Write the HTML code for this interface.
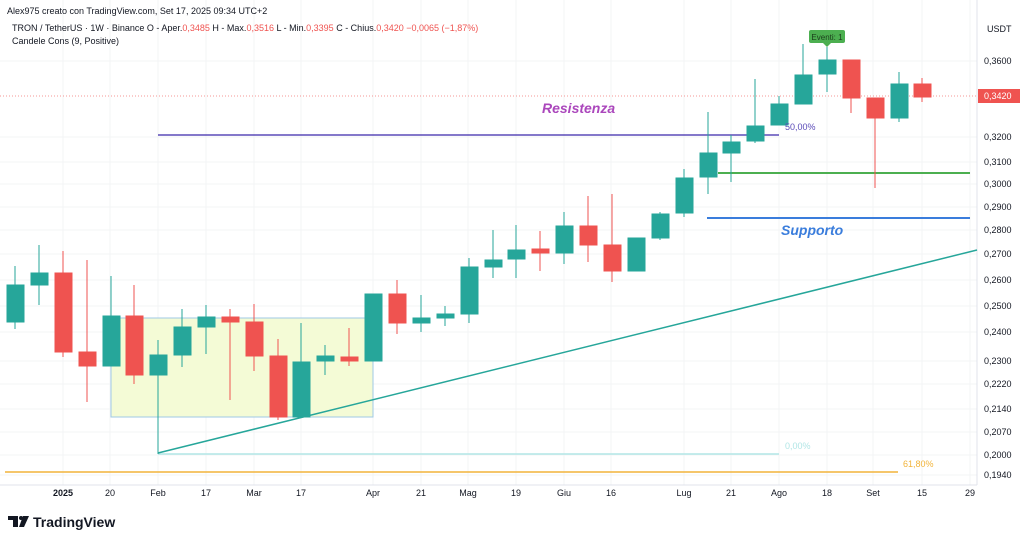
<!DOCTYPE html>
<html><head><meta charset="utf-8"><style>
body{margin:0;width:1024px;height:542px;background:#fff;overflow:hidden;font-family:"Liberation Sans",sans-serif}
svg{position:absolute;left:0;top:0}
</style></head><body>
<svg width="1024" height="542" viewBox="0 0 1024 542" xmlns="http://www.w3.org/2000/svg" font-family="Liberation Sans, sans-serif">
<g stroke="#f3f4f6" stroke-width="1">
<line x1="0" y1="61" x2="977" y2="61"/><line x1="0" y1="137" x2="977" y2="137"/><line x1="0" y1="162" x2="977" y2="162"/><line x1="0" y1="184" x2="977" y2="184"/><line x1="0" y1="207" x2="977" y2="207"/><line x1="0" y1="230" x2="977" y2="230"/><line x1="0" y1="254" x2="977" y2="254"/><line x1="0" y1="280" x2="977" y2="280"/><line x1="0" y1="306" x2="977" y2="306"/><line x1="0" y1="332" x2="977" y2="332"/><line x1="0" y1="361" x2="977" y2="361"/><line x1="0" y1="384" x2="977" y2="384"/><line x1="0" y1="409" x2="977" y2="409"/><line x1="0" y1="432" x2="977" y2="432"/><line x1="0" y1="455" x2="977" y2="455"/><line x1="0" y1="475" x2="977" y2="475"/>
<line x1="63" y1="0" x2="63" y2="485"/><line x1="110" y1="0" x2="110" y2="485"/><line x1="158" y1="0" x2="158" y2="485"/><line x1="206" y1="0" x2="206" y2="485"/><line x1="254" y1="0" x2="254" y2="485"/><line x1="301" y1="0" x2="301" y2="485"/><line x1="373" y1="0" x2="373" y2="485"/><line x1="421" y1="0" x2="421" y2="485"/><line x1="468" y1="0" x2="468" y2="485"/><line x1="516" y1="0" x2="516" y2="485"/><line x1="564" y1="0" x2="564" y2="485"/><line x1="611" y1="0" x2="611" y2="485"/><line x1="684" y1="0" x2="684" y2="485"/><line x1="731" y1="0" x2="731" y2="485"/><line x1="779" y1="0" x2="779" y2="485"/><line x1="827" y1="0" x2="827" y2="485"/><line x1="873" y1="0" x2="873" y2="485"/><line x1="922" y1="0" x2="922" y2="485"/><line x1="970" y1="0" x2="970" y2="485"/>
</g>
<line x1="977" y1="0" x2="977" y2="485" stroke="#e0e3eb"/>
<line x1="0" y1="485" x2="977" y2="485" stroke="#e0e3eb"/>
<!-- rectangle -->
<rect x="111" y="318" width="262" height="99" fill="#f4fbd6" stroke="#9fc9e6" stroke-width="1"/>
<!-- fib/lines -->
<line x1="158" y1="454" x2="779" y2="454" stroke="#b2e6e6" stroke-width="1.5"/>
<line x1="158" y1="375" x2="158" y2="454" stroke="#26a69a" stroke-width="1"/>
<line x1="5" y1="472" x2="898" y2="472" stroke="#f2b43a" stroke-width="1.5"/>
<line x1="158" y1="135" x2="779" y2="135" stroke="#5b4bb8" stroke-width="1.5"/>
<line x1="718" y1="173" x2="970" y2="173" stroke="#4caf50" stroke-width="2"/>
<line x1="707" y1="218" x2="970" y2="218" stroke="#3a7ddc" stroke-width="2"/>
<line x1="158" y1="453" x2="977" y2="250" stroke="#26a69a" stroke-width="1.5"/>
<line x1="0" y1="96" x2="977" y2="96" stroke="#ef5350" stroke-width="1" stroke-dasharray="1,2" opacity="0.6"/>
<!-- candles -->
<g stroke-width="1">
<g fill="#26a69a" stroke="#26a69a"><line x1="15" y1="266" x2="15" y2="329"/><rect x="7" y="285" width="17" height="37"/></g>
<g fill="#26a69a" stroke="#26a69a"><line x1="39" y1="245" x2="39" y2="305"/><rect x="31" y="273" width="17" height="12"/></g>
<g fill="#ef5350" stroke="#ef5350"><line x1="63" y1="251" x2="63" y2="357"/><rect x="55" y="273" width="17" height="79"/></g>
<g fill="#ef5350" stroke="#ef5350"><line x1="87" y1="260" x2="87" y2="402"/><rect x="79" y="352" width="17" height="14"/></g>
<g fill="#26a69a" stroke="#26a69a"><line x1="111" y1="276" x2="111" y2="366"/><rect x="103" y="316" width="17" height="50"/></g>
<g fill="#ef5350" stroke="#ef5350"><line x1="134" y1="285" x2="134" y2="384"/><rect x="126" y="316" width="17" height="59"/></g>
<g fill="#26a69a" stroke="#26a69a"><line x1="158" y1="340" x2="158" y2="375"/><rect x="150" y="355" width="17" height="20"/></g>
<g fill="#26a69a" stroke="#26a69a"><line x1="182" y1="309" x2="182" y2="367"/><rect x="174" y="327" width="17" height="28"/></g>
<g fill="#26a69a" stroke="#26a69a"><line x1="206" y1="305" x2="206" y2="354"/><rect x="198" y="317" width="17" height="10"/></g>
<g fill="#ef5350" stroke="#ef5350"><line x1="230" y1="309" x2="230" y2="400"/><rect x="222" y="317" width="17" height="5"/></g>
<g fill="#ef5350" stroke="#ef5350"><line x1="254" y1="304" x2="254" y2="371"/><rect x="246" y="322" width="17" height="34"/></g>
<g fill="#ef5350" stroke="#ef5350"><line x1="278" y1="339" x2="278" y2="420"/><rect x="270" y="356" width="17" height="61"/></g>
<g fill="#26a69a" stroke="#26a69a"><line x1="301" y1="323" x2="301" y2="417"/><rect x="293" y="362" width="17" height="55"/></g>
<g fill="#26a69a" stroke="#26a69a"><line x1="325" y1="345" x2="325" y2="375"/><rect x="317" y="356" width="17" height="5"/></g>
<g fill="#ef5350" stroke="#ef5350"><line x1="349" y1="328" x2="349" y2="366"/><rect x="341" y="357" width="17" height="4"/></g>
<g fill="#26a69a" stroke="#26a69a"><line x1="373" y1="294" x2="373" y2="361"/><rect x="365" y="294" width="17" height="67"/></g>
<g fill="#ef5350" stroke="#ef5350"><line x1="397" y1="280" x2="397" y2="334"/><rect x="389" y="294" width="17" height="29"/></g>
<g fill="#26a69a" stroke="#26a69a"><line x1="421" y1="295" x2="421" y2="332"/><rect x="413" y="318" width="17" height="5"/></g>
<g fill="#26a69a" stroke="#26a69a"><line x1="445" y1="306" x2="445" y2="326"/><rect x="437" y="314" width="17" height="4"/></g>
<g fill="#26a69a" stroke="#26a69a"><line x1="469" y1="258" x2="469" y2="323"/><rect x="461" y="267" width="17" height="47"/></g>
<g fill="#26a69a" stroke="#26a69a"><line x1="493" y1="230" x2="493" y2="278"/><rect x="485" y="260" width="17" height="7"/></g>
<g fill="#26a69a" stroke="#26a69a"><line x1="516" y1="225" x2="516" y2="278"/><rect x="508" y="250" width="17" height="9"/></g>
<g fill="#ef5350" stroke="#ef5350"><line x1="540" y1="231" x2="540" y2="271"/><rect x="532" y="249" width="17" height="4"/></g>
<g fill="#26a69a" stroke="#26a69a"><line x1="564" y1="212" x2="564" y2="264"/><rect x="556" y="226" width="17" height="27"/></g>
<g fill="#ef5350" stroke="#ef5350"><line x1="588" y1="196" x2="588" y2="262"/><rect x="580" y="226" width="17" height="19"/></g>
<g fill="#ef5350" stroke="#ef5350"><line x1="612" y1="194" x2="612" y2="282"/><rect x="604" y="245" width="17" height="26"/></g>
<g fill="#26a69a" stroke="#26a69a"><line x1="636" y1="238" x2="636" y2="271"/><rect x="628" y="238" width="17" height="33"/></g>
<g fill="#26a69a" stroke="#26a69a"><line x1="660" y1="212" x2="660" y2="240"/><rect x="652" y="214" width="17" height="24"/></g>
<g fill="#26a69a" stroke="#26a69a"><line x1="684" y1="169" x2="684" y2="217"/><rect x="676" y="178" width="17" height="35"/></g>
<g fill="#26a69a" stroke="#26a69a"><line x1="708" y1="112" x2="708" y2="194"/><rect x="700" y="153" width="17" height="24"/></g>
<g fill="#26a69a" stroke="#26a69a"><line x1="731" y1="135" x2="731" y2="182"/><rect x="723" y="142" width="17" height="11"/></g>
<g fill="#26a69a" stroke="#26a69a"><line x1="755" y1="79" x2="755" y2="143"/><rect x="747" y="126" width="17" height="15"/></g>
<g fill="#26a69a" stroke="#26a69a"><line x1="779" y1="96" x2="779" y2="125"/><rect x="771" y="104" width="17" height="21"/></g>
<g fill="#26a69a" stroke="#26a69a"><line x1="803" y1="44" x2="803" y2="104"/><rect x="795" y="75" width="17" height="29"/></g>
<g fill="#26a69a" stroke="#26a69a"><line x1="827" y1="47" x2="827" y2="92"/><rect x="819" y="60" width="17" height="14"/></g>
<g fill="#ef5350" stroke="#ef5350"><line x1="851" y1="60" x2="851" y2="113"/><rect x="843" y="60" width="17" height="38"/></g>
<g fill="#ef5350" stroke="#ef5350"><line x1="875" y1="98" x2="875" y2="188"/><rect x="867" y="98" width="17" height="20"/></g>
<g fill="#26a69a" stroke="#26a69a"><line x1="899" y1="72" x2="899" y2="122"/><rect x="891" y="84" width="17" height="34"/></g>
<g fill="#ef5350" stroke="#ef5350"><line x1="922" y1="78" x2="922" y2="102"/><rect x="914" y="84" width="17" height="13"/></g>
</g>
<!-- Eventi label -->
<rect x="809" y="30" width="36" height="13" rx="2" fill="#4caf50"/>
<polygon points="823,43 831,43 827,47" fill="#4caf50"/>
<text x="827" y="40" font-size="8" fill="#1b3d1b" text-anchor="middle">Eventi: 1</text>
<!-- annotations -->
<text x="542" y="113" font-size="14" font-weight="bold" font-style="italic" fill="#ab47bc">Resistenza</text>
<text x="781" y="235" font-size="14" font-weight="bold" font-style="italic" fill="#3a7ddc">Supporto</text>
<text x="785" y="130" font-size="9" fill="#5b4bb8">50,00%</text>
<text x="785" y="449" font-size="9" fill="#b2e6e6">0,00%</text>
<text x="903" y="467" font-size="9" fill="#f2b43a">61,80%</text>
<!-- header -->
<text x="7" y="14" font-size="9" fill="#131722">Alex975 creato con TradingView.com, Set 17, 2025 09:34 UTC+2</text>
<text x="12" y="31" font-size="9" fill="#131722">TRON / TetherUS · 1W · Binance  O - Aper.<tspan fill="#ef5350">0,3485</tspan>  H - Max.<tspan fill="#ef5350">0,3516</tspan>  L - Min.<tspan fill="#ef5350">0,3395</tspan>  C - Chius.<tspan fill="#ef5350">0,3420  −0,0065 (−1,87%)</tspan></text>
<text x="12" y="44" font-size="9" fill="#131722">Candele Cons (9, Positive)</text>
<!-- right axis -->
<g font-size="9" fill="#131722">
<text x="987" y="32">USDT</text>
<text x="984" y="64">0,3600</text><text x="984" y="140">0,3200</text><text x="984" y="165">0,3100</text><text x="984" y="187">0,3000</text><text x="984" y="210">0,2900</text><text x="984" y="233">0,2800</text><text x="984" y="257">0,2700</text><text x="984" y="283">0,2600</text><text x="984" y="309">0,2500</text><text x="984" y="335">0,2400</text><text x="984" y="364">0,2300</text><text x="984" y="387">0,2220</text><text x="984" y="412">0,2140</text><text x="984" y="435">0,2070</text><text x="984" y="458">0,2000</text><text x="984" y="478">0,1940</text>
</g>
<rect x="978" y="89" width="42" height="14" fill="#ef5350"/>
<text x="984" y="99" font-size="9" fill="#fff">0,3420</text>
<!-- bottom axis -->
<g font-size="9" fill="#131722" text-anchor="middle">
<text x="63" y="496" font-weight="bold">2025</text><text x="110" y="496">20</text><text x="158" y="496">Feb</text><text x="206" y="496">17</text><text x="254" y="496">Mar</text><text x="301" y="496">17</text><text x="373" y="496">Apr</text><text x="421" y="496">21</text><text x="468" y="496">Mag</text><text x="516" y="496">19</text><text x="564" y="496">Giu</text><text x="611" y="496">16</text><text x="684" y="496">Lug</text><text x="731" y="496">21</text><text x="779" y="496">Ago</text><text x="827" y="496">18</text><text x="873" y="496">Set</text><text x="922" y="496">15</text><text x="970" y="496">29</text>
</g>
<!-- logo -->
<g fill="#131722">
<rect x="8" y="516" width="10" height="4"/><rect x="13" y="516" width="5" height="11"/>
<circle cx="21" cy="518" r="2"/><polygon points="23,516 29,516 24,527 19,527"/>
</g>
<text x="33" y="527" font-size="14" font-weight="bold" fill="#131722">TradingView</text>
</svg>
</body></html>
